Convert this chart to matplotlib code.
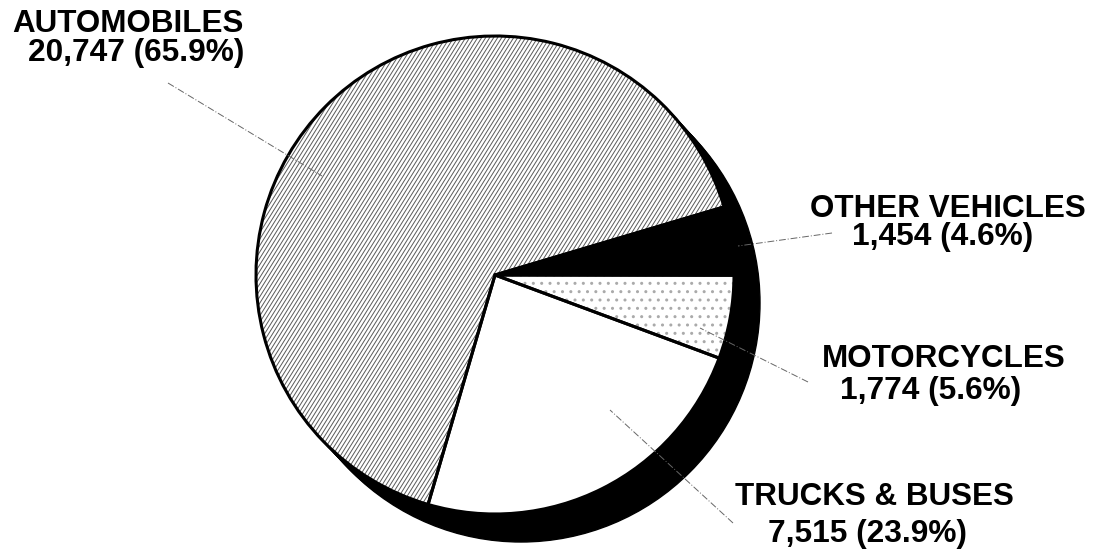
import matplotlib
matplotlib.use("Agg")
import matplotlib.pyplot as plt
import numpy as np
from matplotlib.patches import Circle
from matplotlib.collections import LineCollection

# data, in the order drawn clockwise from the top of the black slice
labels = ["AUTOMOBILES", "OTHER VEHICLES", "MOTORCYCLES", "TRUCKS & BUSES"]
values = [20747, 1454, 1774, 7515]
faces = ["white", "black", "white", "white"]

# label placement in pixel coords (x left, baseline y of name / of number)
name_pos = [(12, 32), (810, 217), (822, 367), (735, 505)]
num_pos = [(28, 61), (852, 245), (840, 399), (768, 542)]
# leader lines (pixel coords): start near text, end inside slice
leaders = [((168, 83), (322, 176)), ((832, 233), (738, 246)),
           ((808, 382), (700, 328)), ((733, 523), (610, 410))]

W, H = 1102, 552
cx, cy, r = 495, 275, 239
total = sum(values)
FONT = "Liberation Sans"

fig = plt.figure(figsize=(W / 100, H / 100), dpi=100)
ax = fig.add_axes([0, 0, 1, 1])

def py(y):
    return H - y

# depth shadow: black disc swept toward lower right
for k in range(11):
    ax.add_patch(Circle((cx + 2.6 * k, py(cy) - 2.8 * k), r, color="black", zorder=1))

start = 16.56 + values[0] / total * 360
wedges, _ = ax.pie(values, colors=faces, startangle=start, counterclock=False,
                   center=(cx, py(cy)), radius=r, frame=True,
                   wedgeprops=dict(linewidth=0, edgecolor="#aaaaaa"))
for w in wedges:
    w.set_zorder(2)
wedges[2].set_hatch("..")

# steep fine hatching for the automobiles slice
xs = np.arange(cx - r - 200, cx + r + 50, 4.0)
dx = 2 * r / np.tan(np.radians(58))
segs = [[(x, py(cy) - r), (x + dx, py(cy) + r)] for x in xs]
hatch = LineCollection(segs, colors="#5a5a5a", linewidths=0.7, zorder=2.5)
ax.add_collection(hatch)
hatch.set_clip_path(wedges[0])

# black outlines on top
outl, _ = ax.pie(values, colors=["none"] * 4, startangle=start, counterclock=False,
                 center=(cx, py(cy)), radius=r, frame=True,
                 wedgeprops=dict(linewidth=2.2, edgecolor="black", fill=False))
for w in outl:
    w.set_zorder(3)

ax.set_xlim(0, W)
ax.set_ylim(0, H)
ax.set_aspect("equal")
ax.axis("off")

for (a, b) in leaders:
    ax.plot([a[0], b[0]], [py(a[1]), py(b[1])], color="#666666", lw=0.7,
            ls=(0, (7, 2, 1, 2)), zorder=4)

for lab, v, (nx, ny), (mx, my) in zip(labels, values, name_pos, num_pos):
    ax.text(nx, py(ny), lab, fontsize=22.6, fontweight="bold", family=FONT,
            va="baseline", ha="left", zorder=5)
    ax.text(mx, py(my), f"{v:,} ({v / total * 100:.1f}%)", fontsize=22.8,
            fontweight="bold", family=FONT, va="baseline", ha="left", zorder=5)

fig.savefig("out.png", dpi=100, facecolor="white")
